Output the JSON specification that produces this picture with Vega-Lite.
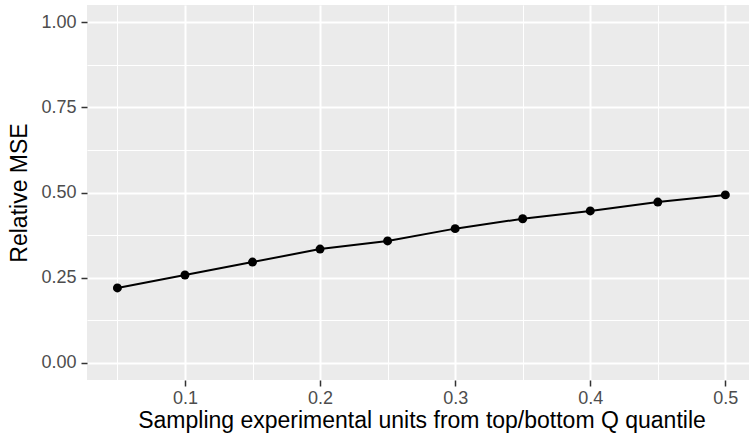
{
  "$schema": "https://vega.github.io/schema/vega-lite/v6.json",
  "width": 662,
  "height": 375,
  "autosize": {"type": "none"},
  "padding": {"left": 87, "top": 5, "right": 0, "bottom": 59},
  "background": "white",
  "config": {"view": {"fill": "#EBEBEB", "stroke": null}, "font": "Liberation Sans"},
  "data": {"values": [
    {"q": 0.05, "mse": 0.220},
    {"q": 0.10, "mse": 0.258},
    {"q": 0.15, "mse": 0.296},
    {"q": 0.20, "mse": 0.334},
    {"q": 0.25, "mse": 0.358},
    {"q": 0.30, "mse": 0.394},
    {"q": 0.35, "mse": 0.423},
    {"q": 0.40, "mse": 0.446},
    {"q": 0.45, "mse": 0.472},
    {"q": 0.50, "mse": 0.493}
  ]},
  "encoding": {
    "x": {"field": "q", "type": "quantitative", "scale": {"domain": [0.0275, 0.5175], "nice": false, "zero": false}, "axis": null},
    "y": {"field": "mse", "type": "quantitative", "scale": {"domain": [-0.05, 1.05], "nice": false, "zero": false}, "axis": null}
  },
  "layer": [
    {
      "mark": {"type": "point", "opacity": 0},
      "encoding": {
        "x": {"field": "q", "type": "quantitative", "scale": {"domain": [0.0275, 0.5175], "nice": false, "zero": false},
          "axis": {"orient": "top", "values": [0.05, 0.15, 0.25, 0.35, 0.45], "grid": true, "gridColor": "white", "gridWidth": 1, "gridOpacity": 1, "labels": false, "ticks": false, "domain": false, "title": null}},
        "y": {"field": "mse", "type": "quantitative", "scale": {"domain": [-0.05, 1.05], "nice": false, "zero": false},
          "axis": {"orient": "right", "values": [0.125, 0.375, 0.625, 0.875], "grid": true, "gridColor": "white", "gridWidth": 1, "gridOpacity": 1, "labels": false, "ticks": false, "domain": false, "title": null}}
      }
    },
    {
      "mark": {"type": "line", "color": "black", "strokeWidth": 2},
      "encoding": {
        "x": {"field": "q", "type": "quantitative", "scale": {"domain": [0.0275, 0.5175], "nice": false, "zero": false},
          "axis": {"orient": "bottom", "values": [0.1, 0.2, 0.3, 0.4, 0.5], "format": ".1f", "grid": true, "gridColor": "white", "gridWidth": 2, "gridOpacity": 1, "domain": false,
            "tickColor": "#333333", "tickSize": 6, "tickWidth": 1.5, "labelFontSize": 18, "labelColor": "#4D4D4D", "labelPadding": 3,
            "title": "Sampling experimental units from top/bottom Q quantile", "titleFontSize": 23, "titleFontWeight": "normal", "titleColor": "black", "titlePadding": 2, "titleX": 334.5}},
        "y": {"field": "mse", "type": "quantitative", "scale": {"domain": [-0.05, 1.05], "nice": false, "zero": false},
          "axis": {"orient": "left", "values": [0, 0.25, 0.5, 0.75, 1], "format": ".2f", "grid": true, "gridColor": "white", "gridWidth": 2, "gridOpacity": 1, "domain": false,
            "tickColor": "#333333", "tickSize": 6, "tickWidth": 1.5, "labelFontSize": 18, "labelColor": "#4D4D4D", "labelPadding": 5,
            "title": "Relative MSE", "titleFontSize": 23, "titleFontWeight": "normal", "titleColor": "black", "titlePadding": 9}}
      }
    },
    {
      "mark": {"type": "circle", "color": "black", "size": 80, "opacity": 1}
    }
  ],
  "resolve": {"axis": {"x": "independent", "y": "independent"}}
}
